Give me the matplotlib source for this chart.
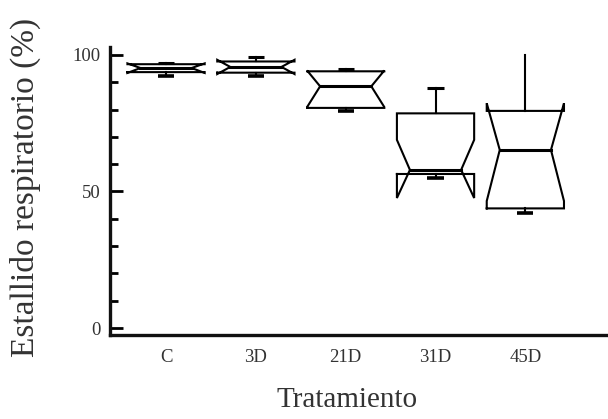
import matplotlib
matplotlib.use("Agg")
import matplotlib.pyplot as plt
from matplotlib.ticker import MultipleLocator

plt.rcParams['font.family'] = ['Liberation Serif', 'DejaVu Serif']

# ---- data ----
categories = ['C', '3D', '21D', '31D', '45D']
q1 = [93.7, 93.5, 80.6, 56.4, 43.8]
med = [95.2, 95.6, 88.5, 57.9, 65.2]
q3 = [96.6, 97.6, 94.0, 78.6, 79.5]
cilo = [93.4, 93.0, 80.9, 47.6, 46.5]
cihi = [96.9, 98.2, 94.3, 68.9, 82.3]
whislo = [92.2, 92.3, 79.6, 54.9, 42.2]
whishi = [97.2, 99.4, 94.9, 87.8, 100.0]

# ---- style ----
show_top_cap = [True, True, True, True, False]
half_w = 0.43
notch_half_w = 0.285
cap_half_w = 0.09
lc = 'black'

fig = plt.figure(figsize=(6.08, 4.19), dpi=100)
ax = fig.add_axes([110/608, 1-335/419, 1-110/608, (335-47)/419])

for i, cat in enumerate(categories):
    pos = i + 1
    bl, br = pos - half_w, pos + half_w
    nl, nr = pos - notch_half_w, pos + notch_half_w
    bx = [bl, br, br, nr, br, br, bl, bl, nl, bl, bl]
    by = [q1[i], q1[i], cilo[i], med[i], cihi[i], q3[i], q3[i], cihi[i],
          med[i], cilo[i], q1[i]]
    ax.plot(bx, by, color=lc, lw=1.5, solid_joinstyle='miter')
    ax.plot([nl, nr], [med[i], med[i]], color=lc, lw=2.2)
    ax.plot([pos, pos], [q3[i], whishi[i]], color=lc, lw=1.5)
    ax.plot([pos, pos], [whislo[i], q1[i]], color=lc, lw=1.5)
    if show_top_cap[i]:
        ax.plot([pos - cap_half_w, pos + cap_half_w], [whishi[i], whishi[i]],
                color=lc, lw=2.2, solid_capstyle='butt')
    ax.plot([pos - cap_half_w, pos + cap_half_w], [whislo[i], whislo[i]],
            color=lc, lw=2.6, solid_capstyle='butt')

ax.set_xlim(0.376, 5.92)
ax.set_ylim(-2.56, 102.9)
ax.set_xticks(range(1, len(categories) + 1))
ax.set_xticklabels(categories)
ax.set_yticks([0, 50, 100])
ax.yaxis.set_minor_locator(MultipleLocator(10))

for s in ['top', 'right']:
    ax.spines[s].set_visible(False)
for s in ['left', 'bottom']:
    ax.spines[s].set_linewidth(2.4)
    ax.spines[s].set_color('#111111')

ax.tick_params(axis='y', which='major', direction='in', length=9, width=2,
               pad=7, labelsize=13.5, labelcolor='#333333')
ax.tick_params(axis='y', which='minor', direction='in', length=6, width=2)
ax.tick_params(axis='x', length=0, pad=10, labelsize=13.5, labelcolor='#333333')

fig.text(347/608, 1-400/419, 'Tratamiento', ha='center', va='center',
         fontsize=21, color='#333333')
fig.text(25/608, 1-187.5/419, 'Estallido respiratorio (%)', ha='center',
         va='center', rotation=90, fontsize=24, color='#333333')

fig.savefig('out.png', dpi=100)
